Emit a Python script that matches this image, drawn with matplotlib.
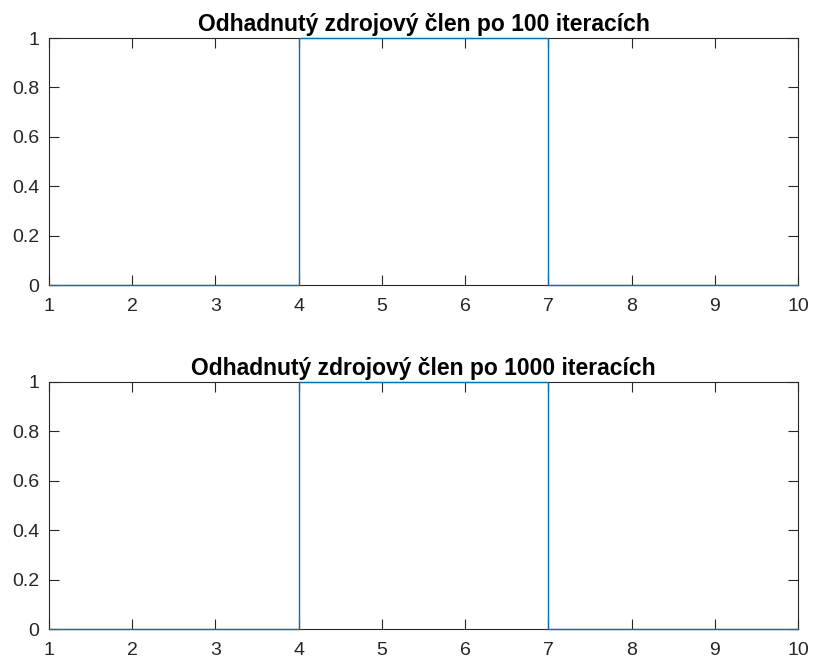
import numpy as np
import matplotlib.pyplot as plt

plt.rcParams['font.family'] = ['Liberation Sans', 'DejaVu Sans']

# odhad zdrojového členu na síti (po částech konstantní)
x = [1, 4, 4, 7, 7, 10]
f_100 = [0, 0, 1, 1, 0, 0]
f_1000 = [0, 0, 1, 1, 0, 0]
iterations = [100, 1000]

xticks = list(range(1, 11))
yticks = [0, 0.2, 0.4, 0.6, 0.8, 1]
ytick_labels = ['0', '0.2', '0.4', '0.6', '0.8', '1']

fig = plt.figure(figsize=(8.13, 6.61), dpi=100)
positions = [[0.0603, 0.5688, 0.9212, 0.3737],
             [0.0603, 0.0484, 0.9212, 0.3737]]

for pos, f, n in zip(positions, [f_100, f_1000], iterations):
    ax = fig.add_axes(pos)
    ax.plot(x, f, color='#0072BD', lw=1.0, clip_on=False, zorder=5)
    ax.set_xlim(1, 10)
    ax.set_ylim(0, 1)
    ax.set_xticks(xticks)
    ax.set_yticks(yticks)
    ax.set_yticklabels(ytick_labels)
    ax.tick_params(direction='in', length=7, width=0.8, colors='#262626',
                   labelsize=14, top=True, right=True)
    ax.tick_params(axis='x', pad=9)
    ax.tick_params(axis='y', pad=7)
    for s in ax.spines.values():
        s.set_color('#262626')
        s.set_linewidth(0.8)
    ax.set_title(f'Odhadnutý zdrojový člen po {n} iteracích',
                 fontsize=16.5, fontweight='bold', pad=5)

fig.savefig('out.png', dpi=100)
